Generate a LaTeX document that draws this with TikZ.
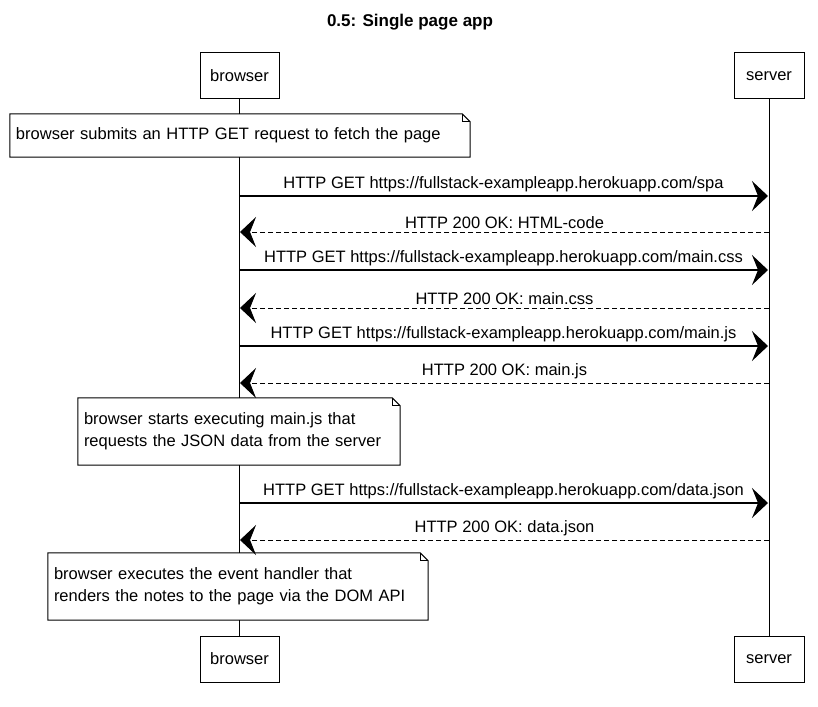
\documentclass[tikz,border=0pt]{standalone}
\usepackage{fontspec}
\setmainfont{Liberation Sans}
\usetikzlibrary{arrows.meta}
\begin{document}
\begin{tikzpicture}[x=1pt,y=-1pt,
  every node/.style={font=\fontsize{16.5}{22}\selectfont},
  actor/.style={draw,line width=1pt,minimum height=46pt,fill=white},
  note/.style={fill=white,align=left,inner xsep=6pt,inner ysep=0pt},
  call/.style={line width=1.2pt,-{Stealth[length=16pt,width=30pt,inset=6pt]}},
  reply/.style={call,line width=0.9pt,dash pattern=on 5pt off 3pt}]
\useasboundingbox (0,0) rectangle (818,706);
\node (title) at (410,22) {\fontsize{17}{20}\selectfont\bfseries 0.5: Single page app};
\node[actor,minimum width=79pt] (bt) at (239.5,76) {browser};
\node[actor,minimum width=70pt] (st) at (769,76) {server};
\node[actor,minimum width=79pt] (bb) at (239.5,659) {browser};
\node[actor,minimum width=70pt] (sb) at (769,659) {server};
\draw[line width=0.8pt] (bt) -- (bb);
\draw[line width=0.8pt] (st) -- (sb);
\node[note,text width=448pt,minimum height=43pt] (n1) at (240,135.5) {browser submits an HTTP GET request to fetch the page};
\node[note,text width=310pt,minimum height=67pt] (n2) at (239,431.5) {browser starts executing main.js that\\requests the JSON data from the server};
\node[note,text width=368pt,minimum height=67pt] (n3) at (238,586.5) {browser executes the event handler that\\renders the notes to the page via the DOM API};
\foreach \n in {n1,n2,n3}{
  \draw[line width=1pt] (\n.north west) -- ([xshift=-8pt]\n.north east) -- ([yshift=-8pt]\n.north east) -- (\n.south east) -- (\n.south west) -- cycle;
  \draw[line width=0.8pt] ([xshift=-8pt]\n.north east) -- ([xshift=-8pt,yshift=-8pt]\n.north east) -- ([yshift=-8pt]\n.north east);
}
\foreach \i/\y/\txt in {1/196/{HTTP GET https://fullstack-exampleapp.herokuapp.com/spa},
  3/270/{HTTP GET https://fullstack-exampleapp.herokuapp.com/main.css},
  5/346/{HTTP GET https://fullstack-exampleapp.herokuapp.com/main.js},
  7/503/{HTTP GET https://fullstack-exampleapp.herokuapp.com/data.json}}{
  \coordinate (b\i) at (239,\y);
  \coordinate (s\i) at (768,\y);
  \draw[call] (b\i) -- node[above=0pt]{\txt} (s\i);
}
\foreach \i/\y/\txt in {2/232/{HTTP 200 OK: HTML-code},
  4/308/{HTTP 200 OK: main.css},
  6/383/{HTTP 200 OK: main.js},
  8/540/{HTTP 200 OK: data.json}}{
  \coordinate (b\i) at (240,\y);
  \coordinate (s\i) at (769,\y);
  \draw[reply] (s\i) -- node[above=0pt]{\txt} (b\i);
}
\end{tikzpicture}
\end{document}
